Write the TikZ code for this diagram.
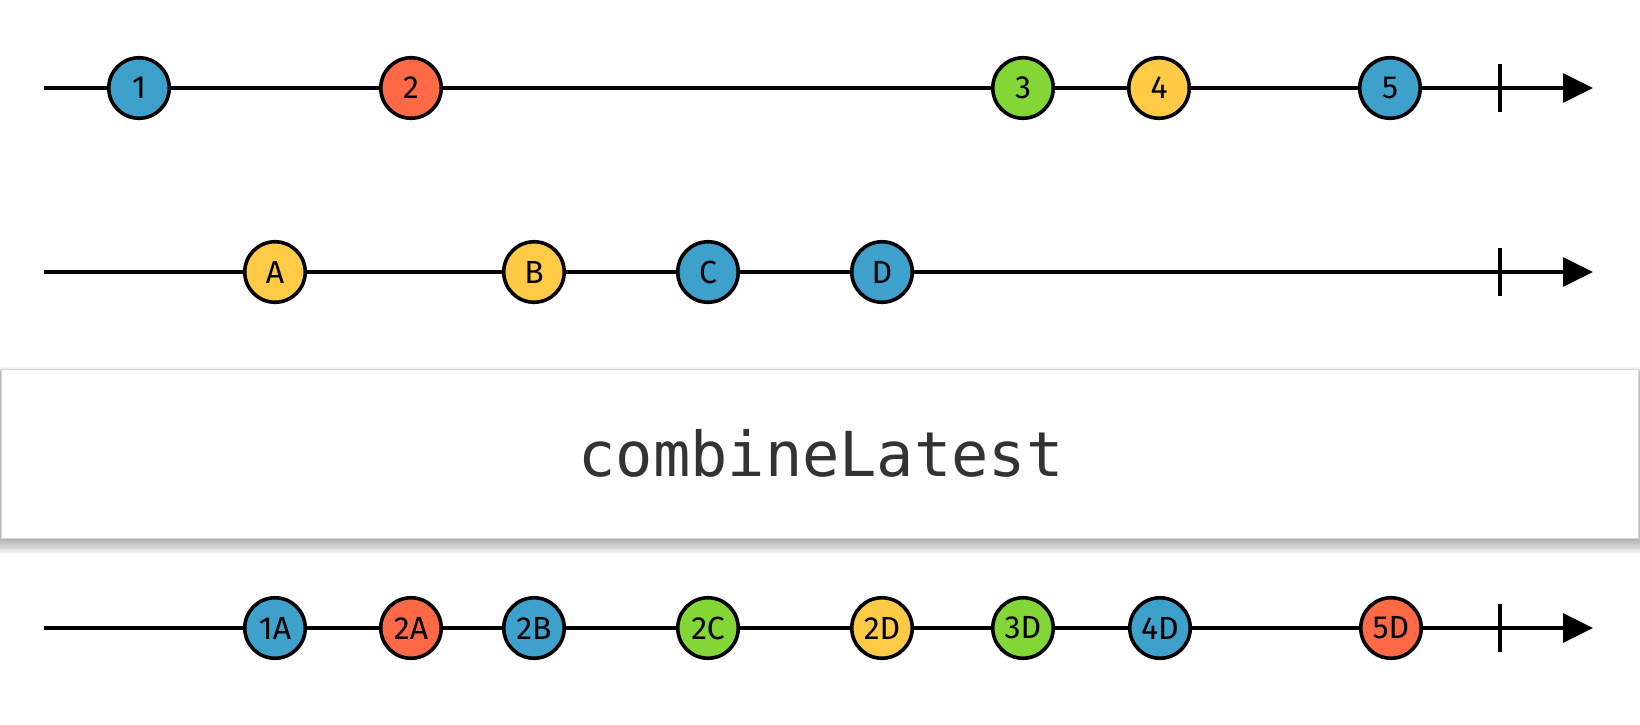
\documentclass[tikz,border=0pt]{standalone}
\usepackage{fontspec}
\setmainfont{Fira Sans}
\setmonofont{DejaVu Sans Mono}
\usetikzlibrary{arrows.meta}
\definecolor{mblue}{HTML}{3EA1CB}
\definecolor{mred}{HTML}{FF6946}
\definecolor{mgreen}{HTML}{82D736}
\definecolor{myellow}{HTML}{FFCB46}
\definecolor{optext}{HTML}{333333}
\definecolor{boxline}{HTML}{D6D6D6}
\begin{document}
\begin{tikzpicture}[x=1pt,y=-1pt,
  marble/.style={circle, draw=black, line width=3.6pt, minimum size=60.5pt, inner sep=0pt,
    font=\fontsize{32}{36}\selectfont},
  timeline/.style={line width=3.4pt, -{Triangle[length=30pt,width=29pt]}},
  endtick/.style={line width=3.4pt},
  opbox/.style={draw=boxline, line width=1pt, fill=white},
  optitle/.style={anchor=base, text=optext, font=\ttfamily\fontsize{62}{70}\selectfont}]
\useasboundingbox (0,0) rectangle (1640,724);
\fill[white] (0,0) rectangle (1640,724);

% ---------- row 1 ----------
\coordinate (s1) at (44,88);
\coordinate (e1) at (1593,88);
\draw[timeline] (s1) -- (e1);
\coordinate (t1a) at (1500,64);
\coordinate (t1b) at (1500,112);
\draw[endtick] (t1a) -- (t1b);
\node[marble, fill=mblue]   (a1) at (139,88)  {1};
\node[marble, fill=mred]    (a2) at (411,88)  {2};
\node[marble, fill=mgreen]  (a3) at (1023,88) {3};
\node[marble, fill=myellow] (a4) at (1159,88) {4};
\node[marble, fill=mblue]   (a5) at (1390,88) {5};

% ---------- row 2 ----------
\coordinate (s2) at (44,272);
\coordinate (e2) at (1593,272);
\draw[timeline] (s2) -- (e2);
\coordinate (t2a) at (1500,248);
\coordinate (t2b) at (1500,296);
\draw[endtick] (t2a) -- (t2b);
\node[marble, fill=myellow] (bA) at (275,272) {A};
\node[marble, fill=myellow] (bB) at (534,272) {B};
\node[marble, fill=mblue]   (bC) at (708,272) {C};
\node[marble, fill=mblue]   (bD) at (882,272) {D};

% ---------- operator box ----------
\foreach \i in {0,...,11} {
  \fill[black, opacity=0.027] (1-\i, 374-0.6*\i) rectangle (1638+\i, 540+1.3*\i);
}
\draw[opbox] (1,369) rectangle (1638,538);
\node[optitle] (op) at (821,476) {combineLatest};

% ---------- row 3 ----------
\coordinate (s3) at (44,628);
\coordinate (e3) at (1593,628);
\draw[timeline] (s3) -- (e3);
\coordinate (t3a) at (1500,604);
\coordinate (t3b) at (1500,652);
\draw[endtick] (t3a) -- (t3b);
\node[marble, fill=mblue]   (c1) at (275,628)  {1A};
\node[marble, fill=mred]    (c2) at (411,628)  {2A};
\node[marble, fill=mblue]   (c3) at (534,628)  {2B};
\node[marble, fill=mgreen]  (c4) at (708,628)  {2C};
\node[marble, fill=myellow] (c5) at (882,628)  {2D};
\node[marble, fill=mgreen]  (c6) at (1023,628) {3D};
\node[marble, fill=mblue]   (c7) at (1160,628) {4D};
\node[marble, fill=mred]    (c8) at (1391,628) {5D};
\end{tikzpicture}
\end{document}
